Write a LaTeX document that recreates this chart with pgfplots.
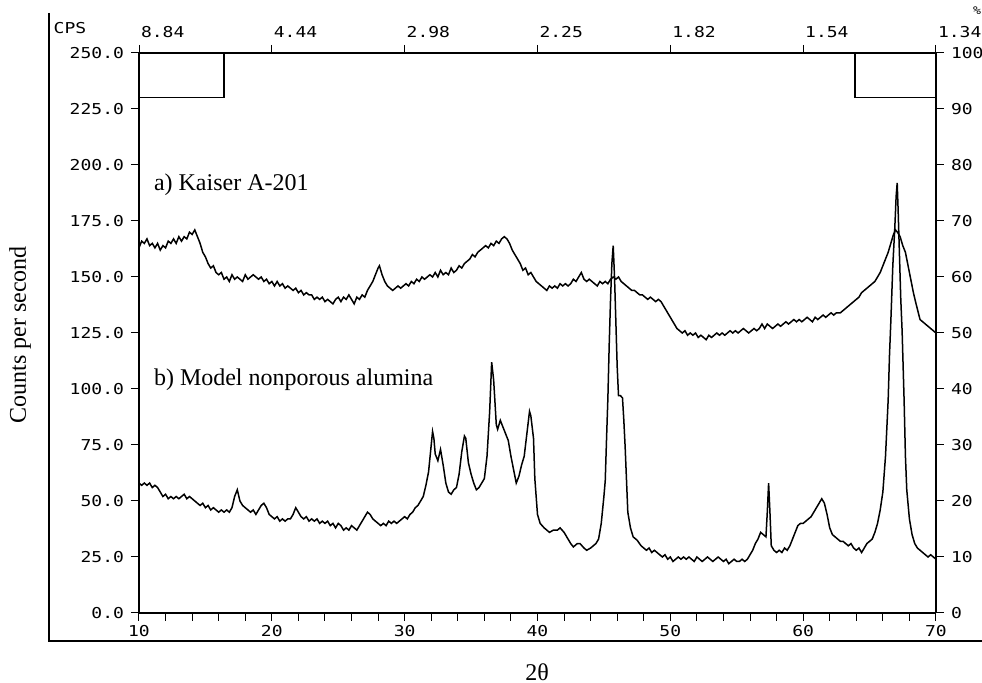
\documentclass[border=0pt]{standalone}
\usepackage{pgfplots}
\pgfplotsset{compat=1.18}
\usepackage{fontspec}
\setmainfont{Liberation Serif}
\newfontfamily\plotfont[FakeStretch=1.2]{DejaVu Sans Mono}

\pgfplotsset{
  xrdaxis/.style={
    scale only axis, width=398.5pt, height=280pt,
    xmin=10, xmax=70,
    tick align=outside,
    major tick length=4pt, minor tick length=4pt,
    axis line style={-, line width=0.6pt},
    every tick/.style={black, line width=0.5pt},
    ticklabel style={font=\plotfont\fontsize{7.5}{8}\selectfont},
    /pgf/number format/assume math mode=true,
  },
}

\begin{document}
\begin{tikzpicture}
% left axis: counts per second, bottom axis: 2theta
\begin{axis}[xrdaxis,
  ymin=0, ymax=250,
  axis x line*=bottom, axis y line*=left,
  xtick={10,20,...,70}, minor x tick num=4,
  ytick={0,25,...,250},
  yticklabel style={/pgf/number format/fixed, /pgf/number format/fixed zerofill, /pgf/number format/precision=1},
  xticklabel style={yshift=1.5pt},
  clip=false,
]
% a) Kaiser A-201
\addplot[black, line width=0.75pt] coordinates {
(10.0,163)(10.2,166)(10.4,165)(10.6,167)(10.8,164)(11.0,165)(11.2,163)(11.4,165)(11.6,162)(11.8,164)
(12.0,163)(12.2,166)(12.4,165)(12.6,167)(12.8,165)(13.0,168)(13.2,166)(13.4,168)(13.6,167)(13.8,170)
(14.0,169)(14.2,171)(14.4,168)(14.6,165)(14.8,161)(15.0,159)(15.2,156)(15.4,154)(15.6,155)(15.8,152)
(16.0,151)(16.2,152)(16.4,149)(16.6,150)(16.8,148)(17.0,151)(17.2,149)(17.4,150)(17.6,149)(17.8,148)
(18.0,151)(18.2,149)(18.4,150)(18.6,151)(18.8,150)(19.0,149)(19.2,150)(19.4,148)(19.6,149)(19.8,147)
(20.0,148)(20.2,146)(20.4,148)(20.6,146)(20.8,147)(21.0,145)(21.2,146)(21.4,145)(21.6,144)(21.8,145)
(22.0,143)(22.2,144)(22.4,142)(22.6,143)(22.8,142)(23.0,142)(23.2,140)(23.4,141)(23.6,140)(23.8,141)
(24.0,139)(24.2,140)(24.4,139)(24.6,138)(24.8,140)(25.0,141)(25.2,139)(25.4,141)(25.6,140)(25.8,142)
(26.0,140)(26.2,138)(26.4,141)(26.6,140)(26.8,142)(27.0,141)(27.2,144)(27.4,146)(27.6,148)(27.8,151)
(28.0,154)(28.1,155)(28.3,151)(28.5,148)(28.7,146)(28.9,145)(29.1,144)(29.3,145)(29.5,146)(29.7,145)
(29.9,146)(30.1,147)(30.3,146)(30.5,148)(30.7,147)(30.9,149)(31.1,148)(31.3,150)(31.5,149)(31.7,150)
(31.9,151)(32.1,150)(32.3,152)(32.5,150)(32.7,153)(32.9,151)(33.1,152)(33.3,151)(33.5,154)(33.7,152)
(33.9,153)(34.1,155)(34.3,154)(34.5,156)(34.7,157)(34.9,158)(35.1,160)(35.3,159)(35.5,161)(35.7,162)
(35.9,163)(36.1,164)(36.3,163)(36.5,165)(36.7,164)(36.9,166)(37.1,165)(37.3,167)(37.5,168)(37.7,167)
(37.9,165)(38.1,162)(38.3,160)(38.5,158)(38.7,156)(38.9,153)(39.1,154)(39.3,151)(39.5,152)(39.7,150)
(39.9,148)(40.1,147)(40.3,146)(40.5,145)(40.7,144)(40.9,146)(41.1,145)(41.3,146)(41.5,145)(41.7,147)
(41.9,146)(42.1,147)(42.3,146)(42.5,147)(42.7,149)(42.9,148)(43.1,150)(43.3,152)(43.5,149)(43.7,148)
(43.9,149)(44.1,148)(44.3,147)(44.5,146)(44.7,148)(44.9,147)(45.1,148)(45.3,147)(45.5,149)(45.7,150)
(45.9,149)(46.1,150)(46.3,148)(46.5,147)(46.7,146)(46.9,145)(47.1,144)(47.3,144)(47.5,143)(47.7,142)
(47.9,142)(48.1,141)(48.3,140)(48.5,141)(48.7,140)(48.9,139)(49.1,140)(49.3,139)(49.5,137)(49.7,135)
(49.9,133)(50.1,131)(50.3,129)(50.5,127)(50.7,126)(50.9,125)(51.1,126)(51.3,124)(51.5,125)(51.7,124)
(51.9,125)(52.1,123)(52.3,124)(52.5,123)(52.7,122)(52.9,124)(53.1,123)(53.3,124)(53.5,125)(53.7,124)
(53.9,125)(54.1,124)(54.3,125)(54.5,126)(54.7,125)(54.9,126)(55.1,125)(55.3,126)(55.5,127)(55.7,126)
(55.9,125)(56.1,126)(56.3,127)(56.5,126)(56.7,127)(56.9,129)(57.1,127)(57.3,129)(57.5,128)(57.7,127)
(57.9,128)(58.1,129)(58.3,128)(58.5,129)(58.7,130)(58.9,129)(59.1,130)(59.3,131)(59.5,130)(59.7,131)
(59.9,130)(60.1,131)(60.3,132)(60.5,131)(60.7,130)(60.9,132)(61.1,131)(61.3,132)(61.5,133)(61.7,132)
(61.9,133)(62.1,134)(62.3,133)(62.5,134)(62.8,134)(63.0,135)(63.2,136)(63.4,137)(63.6,138)(63.8,139)
(64.0,140)(64.2,141)(64.4,143)(64.6,144)(64.8,145)(65.0,146)(65.2,147)(65.4,148)(65.6,150)(65.8,152)
(66.0,155)(66.2,158)(66.4,161)(66.6,165)(66.8,169)(66.95,171)(67.1,170)(67.3,168)(67.5,164)(67.7,161)
(67.9,155)(68.1,149)(68.3,143)(68.5,138)(68.8,131)(69.0,130)(69.3,128.5)(69.6,127)(70.0,125)
};
% b) Model nonporous alumina
\addplot[black, line width=0.75pt] coordinates {
(10.0,58)(10.2,57)(10.4,58)(10.6,57)(10.8,58)(11.0,56)(11.2,57)(11.4,56)(11.6,54)(11.8,52)
(12.0,53)(12.2,51)(12.4,52)(12.6,51)(12.8,52)(13.0,51)(13.2,52)(13.4,53)(13.6,51)(13.8,52)
(14.0,51)(14.2,50)(14.4,49)(14.6,48)(14.8,49)(15.0,47)(15.2,48)(15.4,46)(15.6,47)(15.8,46)
(16.0,45)(16.2,46)(16.4,45)(16.6,46)(16.8,45)(17.0,47)(17.2,52)(17.4,55)(17.6,50)(17.8,48)
(18.0,47)(18.2,46)(18.4,45)(18.6,46)(18.8,44)(19.0,46)(19.2,48)(19.4,49)(19.6,47)(19.8,44)
(20.0,43)(20.2,42)(20.4,43)(20.6,41)(20.8,42)(21.0,41)(21.2,42)(21.4,42)(21.6,44)(21.8,47)
(22.0,45)(22.2,43)(22.4,42)(22.6,43)(22.8,41)(23.0,42)(23.2,41)(23.4,42)(23.6,40)(23.8,41)
(24.0,40)(24.2,41)(24.4,39)(24.6,40)(24.8,38)(25.0,40)(25.2,39)(25.4,37)(25.6,38)(25.8,37)
(26.0,39)(26.2,38)(26.4,37)(26.6,39)(26.8,41)(27.0,43)(27.2,45)(27.4,44)(27.6,42)(27.8,41)
(28.0,40)(28.2,39)(28.4,40)(28.6,39)(28.8,41)(29.0,40)(29.2,41)(29.4,40)(29.6,41)(29.8,42)
(30.0,43)(30.2,42)(30.4,44)(30.6,45)(30.8,47)(31.0,48)(31.2,50)(31.4,52)(31.6,57)(31.8,63)
(32.0,75)(32.1,81)(32.2,78)(32.3,71)(32.5,68)(32.7,73)(32.9,66)(33.1,58)(33.3,54)(33.5,53)
(33.7,55)(33.9,56)(34.1,62)(34.3,72)(34.5,79)(34.6,78)(34.8,67)(35.0,62)(35.2,58)(35.4,55)
(35.6,56)(35.8,58)(36.0,60)(36.2,70)(36.4,90)(36.55,112)(36.7,104)(36.9,84)(37.0,82)(37.2,86)
(37.4,83)(37.6,80)(37.8,77)(38.0,70)(38.2,64)(38.4,58)(38.6,61)(38.8,66)(39.0,70)(39.2,80)
(39.4,90)(39.5,88)(39.7,78)(39.8,60)(40.0,44)(40.2,40)(40.5,38)(40.9,36)(41.2,37)(41.5,37)
(41.7,38)(42.0,36)(42.2,34)(42.5,31)(42.7,29.5)(43.0,31)(43.2,31)(43.5,29)(43.7,28)(44.0,29)
(44.2,30)(44.4,31)(44.6,33)(44.8,40)(45.0,52)(45.1,59)(45.2,78)(45.3,96)(45.4,120)(45.5,140)
(45.6,156)(45.7,164)(45.8,150)(45.9,130)(46.0,110)(46.1,97)(46.25,97)(46.4,96)(46.5,86)(46.6,74)
(46.8,45)(47.0,38)(47.2,34)(47.5,32.5)(47.8,30)(48.0,29)(48.2,28)(48.4,29)(48.6,27)(48.8,28)
(49.0,27)(49.2,26)(49.4,25)(49.6,26)(49.8,24)(50.0,25)(50.2,23)(50.4,24)(50.6,25)(50.8,24)
(51.0,25)(51.2,24)(51.4,25)(51.6,24)(51.8,23)(52.0,25)(52.2,24)(52.4,23)(52.6,24)(52.8,25)
(53.0,24)(53.2,23)(53.4,24)(53.6,25)(53.8,24)(54.0,23)(54.2,24)(54.4,22)(54.6,23)(54.8,24)
(55.0,23)(55.2,23)(55.4,24)(55.6,23)(55.8,24)(56.0,26)(56.2,28)(56.4,31)(56.6,33)(56.8,36)
(57.0,35)(57.2,34)(57.3,45)(57.4,58)(57.5,45)(57.6,30)(57.8,28)(58.0,27)(58.2,28)(58.4,27)
(58.6,29)(58.8,28)(59.0,30)(59.2,33)(59.4,36)(59.6,39)(59.8,40)(60.0,40)(60.2,41)(60.4,42)
(60.6,43)(60.8,45)(61.0,47)(61.2,49)(61.4,51)(61.6,49)(61.8,44)(62.0,38)(62.2,35)(62.4,34)
(62.6,33)(62.8,32)(63.0,32)(63.2,31)(63.4,30)(63.6,31)(63.8,29)(64.0,28)(64.2,29)(64.4,27)
(64.6,29)(64.8,31)(65.0,32)(65.2,33)(65.4,36)(65.6,40)(65.8,46)(66.0,54)(66.2,70)(66.4,95)
(66.5,115)(66.6,130)(66.75,155)(66.9,172)(67.0,186)(67.08,192)(67.15,180)(67.25,160)(67.35,140)(67.45,126)
(67.6,95)(67.7,70)(67.8,55)(68.0,42)(68.2,35)(68.4,31)(68.6,29)(68.8,28)(69.0,27)(69.2,26)
(69.4,25)(69.6,26)(69.8,25)(70.0,24)
};
% scan window markers
\addplot[black, line width=0.6pt] coordinates {(10,230)(16.4,230)(16.4,250)};
\addplot[black, line width=0.6pt] coordinates {(63.9,250)(63.9,230)(70,230)};
\node[anchor=base west, font=\fontsize{12}{14}\selectfont] at (axis cs:10.6,188.5) {a) Kaiser A-201};
\node[anchor=base west, font=\fontsize{12}{14}\selectfont] at (axis cs:10.6,101.5) {b) Model nonporous alumina};
\end{axis}
% right axis: percent, top axis: d-spacing
\begin{axis}[xrdaxis,
  ymin=0, ymax=100,
  axis x line*=top, axis y line*=right,
  xtick={10,20,...,70},
  xticklabels={8.84,4.44,2.98,2.25,1.82,1.54,1.34},
  xticklabel style={anchor=south west, xshift=-2.5pt},
  ytick={0,10,...,100},
]
\addplot[draw=none] coordinates {(10,0)(70,100)};
\end{axis}
\node[font=\plotfont\fontsize{7.5}{8}\selectfont] at (-34.5pt,292.5pt) {CPS};
\node[font=\plotfont\fontsize{5.5}{6}\selectfont, inner sep=0pt] at (419pt,301pt) {\%};
\node[rotate=90, font=\fontsize{12}{14}\selectfont] at (-59.5pt,139pt) {Counts per second};
\node[font=\fontsize{12}{14}\selectfont] at (199pt,-29.5pt) {2θ};
\draw[line width=0.6pt] (-45pt,300pt) -- (-45pt,-14pt) -- (421.5pt,-14pt);
\pgfresetboundingbox
\path[use as bounding box] (-69.5pt,-35pt) rectangle (421.5pt,306.5pt);
\end{tikzpicture}
\end{document}
